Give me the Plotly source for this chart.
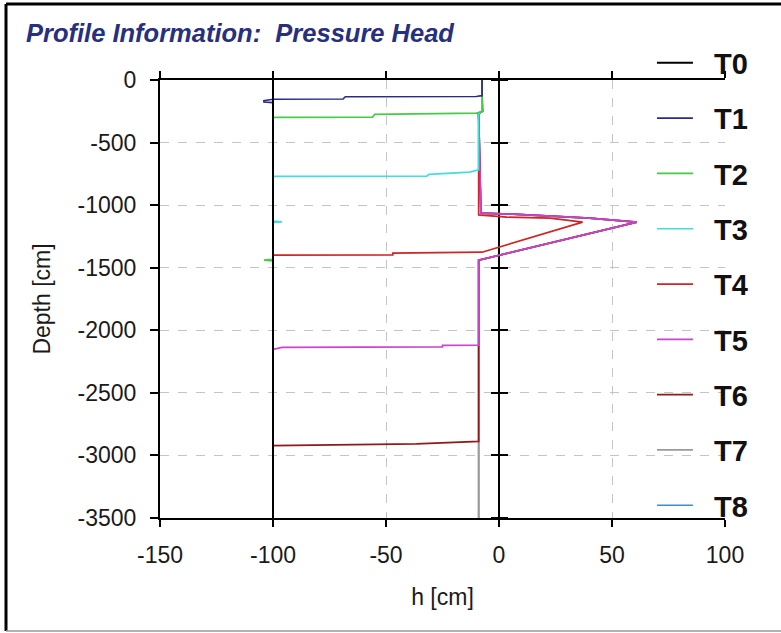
import plotly.graph_objects as go

# ---- pressure head profiles h [cm] versus depth [cm] ----
names = ["T0", "T1", "T2", "T3", "T4", "T5", "T6", "T7", "T8"]
colors = ["#000000", "#2a2a8c", "#44cc44", "#44dddd", "#cc2626",
          "#cc44cc", "#8e1b1b", "#9a9a9a", "#3a8fd0"]

depth_T0 = [0, -3500]
h_T0 = [-100, -100]

depth_T1 = [0, -125, -130, -132, -134, -152, -154, -166, -176, -180, -3500]
h_T1 = [-7.5, -7.5, -9.5, -10, -68, -69, -100, -104, -104, -100, -100]

depth_T2 = [0, -130, -250, -262, -264, -274, -296, -298, -1434, -1440, -1446, -3500]
h_T2 = [-7.5, -7.5, -7, -9.5, -10, -55, -56, -100, -100, -104, -100, -100]

depth_T3 = [0, -250, -270, -718, -736, -754, -768, -770, -1128, -1133, -1138, -3500]
h_T3 = [-7.5, -7.5, -9, -9, -13, -31, -32, -100, -100, -96, -100, -100]

depth_T4 = [0, -250, -270, -1078, -1096, -1104, -1136, -1376, -1384, -1398, -1400, -3500]
h_T4 = [-7.5, -7.5, -9, -9, 3.5, 22.6, 37, -7.5, -47, -47, -100, -100]

depth_T5 = [0, -250, -270, -1064, -1072, -1104, -1136, -1440, -2118, -2120, -2133, -2136, -2152, -3500]
h_T5 = [-7.5, -7.5, -9, -8, 6, 40, 61, -9, -9, -25, -25, -96, -100, -100]

depth_T6 = [0, -250, -270, -1064, -1072, -1104, -1136, -1440, -2888, -2892, -2905, -2908, -2922, -3500]
h_T6 = [-7.5, -7.5, -9, -8, 6, 40, 61, -9, -9, -14, -36, -36.5, -100, -100]

depth_T7 = [0, -250, -270, -1064, -1072, -1104, -1136, -1440, -3500]
h_T7 = [-7.5, -7.5, -9, -8, 6, 40, 61, -9, -9]

depth_T8 = [0, -250, -270, -1064, -1072, -1104, -1136, -1440, -3500]
h_T8 = [-7.5, -7.5, -9, -8, 6, 40, 61, -9, -9]

profiles = [(h_T0, depth_T0), (h_T1, depth_T1), (h_T2, depth_T2),
            (h_T3, depth_T3), (h_T4, depth_T4), (h_T5, depth_T5),
            (h_T6, depth_T6), (h_T7, depth_T7), (h_T8, depth_T8)]

x_ticks = [-150, -100, -50, 0, 50, 100]
x_tick_labels = ["-150", "-100", "-50", "0", "50", "100"]
y_ticks = [0, -500, -1000, -1500, -2000, -2500, -3000, -3500]
y_tick_labels = ["0", "-500", "-1000", "-1500", "-2000", "-2500", "-3000", "-3500"]
x_range = [-150, 100]
y_range = [-3500, 0]

FONT = "Liberation Sans, Arial, Helvetica, sans-serif"
W, H = 781, 633
L, R, T, B = 160, 56, 80, 115

# earlier profiles are painted over later ones; T0 and T1 sit on overlay axes
axis_of = {0: "y3", 1: "y2"}

fig = go.Figure()
for i in reversed(range(len(names))):
    hx, dy = profiles[i]
    fig.add_trace(go.Scatter(
        x=hx, y=dy, mode="lines",
        name="&nbsp;&nbsp;" + names[i],  # a little air between key line and label
        line=dict(color=colors[i], width=2 if i == 0 else 1.7),
        legendgroup=names[i], legendrank=i,
        yaxis=axis_of.get(i, "y"),
    ))

def fx(p):
    return (p - L) / (W - L - R)

def fy(p):
    return (H - B - p) / (H - T - B)

grid = dict(showgrid=True, gridcolor="#c4c4c4", gridwidth=1, griddash="dash")
tickfont = dict(family=FONT, size=23, color="#1a1a1a")
titlefont = dict(family=FONT, size=23, color="#1a1a1a")

overlay_axis = dict(overlaying="y", anchor="free", position=0.6, range=y_range,
                    tickvals=y_ticks, ticks="outside", ticklen=8, tickwidth=2,
                    tickcolor="black", showticklabels=False, showgrid=False,
                    zeroline=False, showline=False)

fig.update_layout(
    width=W, height=H,
    margin=dict(l=L, r=R, t=T, b=B, autoexpand=False),
    paper_bgcolor="white", plot_bgcolor="white",
    title=dict(text="Profile Information:&nbsp; Pressure Head",
               font=dict(family=FONT, size=25.5, color="#27307e",
                         weight="bold", style="italic"),
               x=26 / W, xanchor="left", xref="container",
               y=1 - 33 / H, yanchor="middle", yref="container"),
    xaxis=dict(range=x_range, tickvals=x_ticks, ticktext=x_tick_labels,
               ticks="outside", ticklen=7, ticklabelstandoff=8,
               tickwidth=2, tickcolor="black", showline=True, linewidth=2,
               linecolor="black", mirror="ticks", zeroline=True,
               zerolinecolor="black", zerolinewidth=2, tickfont=tickfont,
               title=dict(text="h [cm]", font=titlefont, standoff=22),
               automargin=False, **grid),
    yaxis=dict(range=y_range, tickvals=y_ticks, ticktext=y_tick_labels,
               ticks="outside", ticklen=8, ticklabelstandoff=9,
               tickwidth=2, tickcolor="black", showline=True, linewidth=2,
               linecolor="black", zeroline=False, tickfont=tickfont,
               title=dict(text="Depth [cm]", font=titlefont, standoff=21),
               automargin=False, **grid),
    yaxis2=dict(side="left", **overlay_axis),
    yaxis3=dict(side="right", **overlay_axis),
    legend=dict(x=0.8707, xanchor="left", y=1.097, yanchor="top",
                traceorder="grouped", tracegroupgap=14.6, maxheight=620,
                itemwidth=36,
                bgcolor="rgba(0,0,0,0)",
                font=dict(family=FONT, size=29, color="#111111", weight="bold")),
    showlegend=True,
)

# outer frame of the panel
frame = [
    dict(x0=fx(6), x1=fx(6), y0=fy(4), y1=fy(631), color="black", width=3),
    dict(x0=fx(6), x1=fx(781), y0=fy(4), y1=fy(4), color="black", width=3),
    dict(x0=fx(6), x1=fx(781), y0=fy(631), y1=fy(631), color="#9a9a9a", width=1.5),
]
for f in frame:
    fig.add_shape(type="line", xref="paper", yref="paper",
                  x0=f["x0"], x1=f["x1"], y0=f["y0"], y1=f["y1"],
                  line=dict(color=f["color"], width=f["width"]), layer="above")

fig.write_html("out.html")
